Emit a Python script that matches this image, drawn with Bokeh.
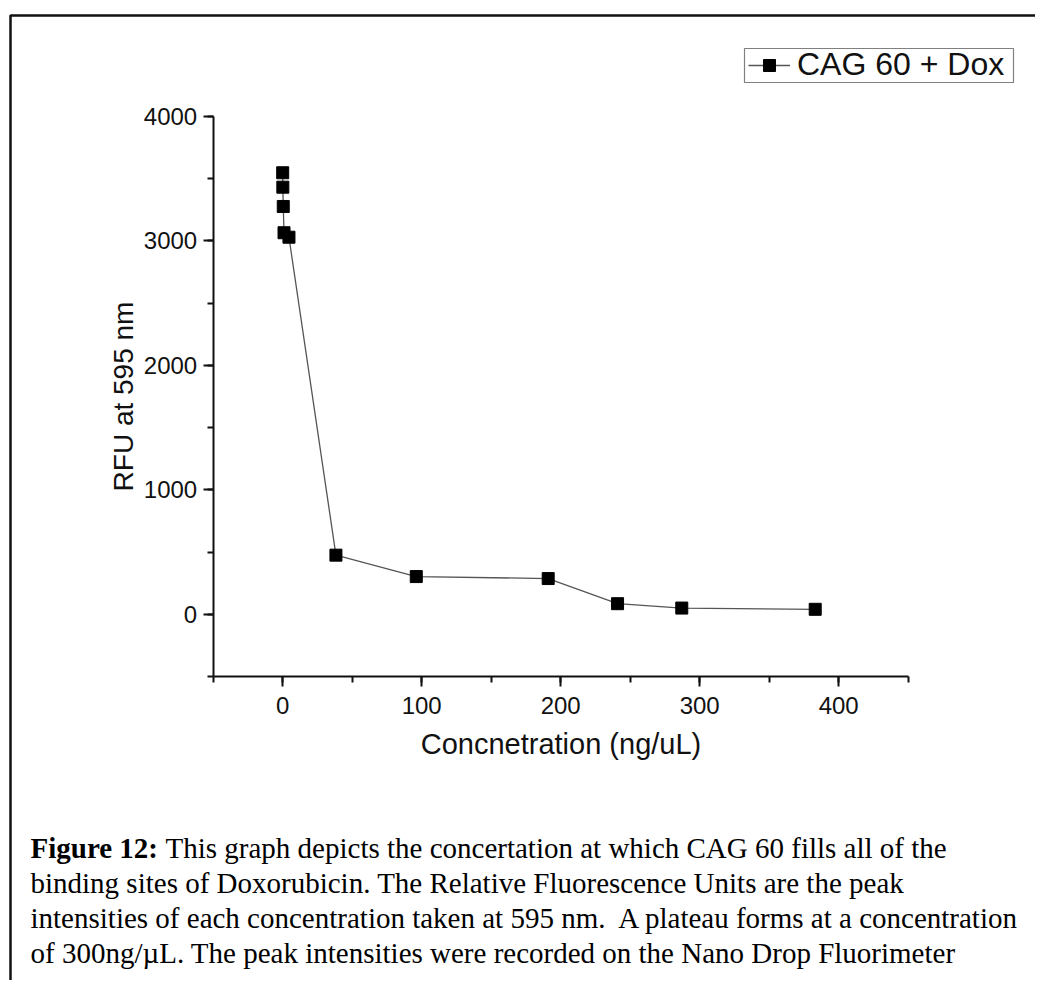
from bokeh.plotting import figure
from bokeh.models import (LinearAxis, SingleIntervalTicker, Range1d, Legend,
                          LegendItem, Label, BoxAnnotation)
from bokeh.embed import file_html
from bokeh.resources import INLINE

# ---------------- data ----------------
conc = [0.0, 0.1, 0.4, 0.95, 4.5, 38.3, 96.1, 191.0, 240.9, 287.1, 383.1]
rfu = [3548, 3432, 3277, 3066, 3030, 475, 303, 287, 85, 50, 40]
series_name = "CAG 60 + Dox"
x_label = "Concnetration (ng/uL)"
y_label = "RFU at 595 nm"
x_bounds = (-50, 450)
y_bounds = (-500, 4000)
x_ticks_interval = 100
y_ticks_interval = 1000
caption_bold = "Figure 12:"
caption_first = "This graph depicts the concertation at which CAG 60 fills all of the"
caption_rest = [
    "binding sites of Doxorubicin. The Relative Fluorescence Units are the peak",
    "intensities of each concentration taken at 595 nm.\u00a0 A plateau forms at a concentration",
    "of 300ng/\u00b5L. The peak intensities were recorded on the Nano Drop Fluorimeter",
]

# ---------------- layout (pixels on the canvas) ----------------
W, H = 1035, 980
AX_L, AX_R = 212.7, 907.7      # pixel span of x axis
AX_T, AX_B = 116.0, 676.0      # pixel span of y axis
SANS = "Liberation Sans"
SERIF = "Liberation Serif"

# the plot frame covers the whole canvas; axes are placed inside it
xs = (x_bounds[1] - x_bounds[0]) / (AX_R - AX_L)
ys = (y_bounds[1] - y_bounds[0]) / (AX_B - AX_T)
x_range = Range1d(x_bounds[0] - AX_L * xs, x_bounds[1] + (W - AX_R) * xs)
y_range = Range1d(y_bounds[0] - (H - AX_B) * ys, y_bounds[1] + AX_T * ys)

p = figure(width=W, height=H, output_backend="svg", toolbar_location=None,
           x_range=x_range, y_range=y_range,
           x_axis_location=None, y_axis_location=None, min_border=0)
p.outline_line_color = None
p.xgrid.visible = False
p.ygrid.visible = False
p.background_fill_color = "white"
p.border_fill_color = "white"


def style_axis(ax, tick_size, label_size, label_standoff, major_standoff):
    ax.axis_line_width = 2
    ax.axis_line_color = "#111111"
    ax.major_tick_in = 0
    ax.major_tick_out = 10
    ax.minor_tick_in = 0
    ax.minor_tick_out = 6
    ax.major_tick_line_width = 2
    ax.minor_tick_line_width = 2
    ax.major_tick_line_color = "#111111"
    ax.minor_tick_line_color = "#111111"
    ax.major_label_text_font = SANS
    ax.major_label_text_font_size = tick_size
    ax.major_label_text_color = "#111111"
    ax.major_label_standoff = major_standoff
    ax.axis_label_text_font = SANS
    ax.axis_label_text_font_size = label_size
    ax.axis_label_text_font_style = "normal"
    ax.axis_label_text_color = "#111111"
    ax.axis_label_standoff = label_standoff


xaxis = LinearAxis(ticker=SingleIntervalTicker(interval=x_ticks_interval, num_minor_ticks=2),
                   axis_label=x_label, bounds=x_bounds, fixed_location=y_bounds[0])
style_axis(xaxis, "24px", "29px", 11, 10)
p.add_layout(xaxis, "below")

yaxis = LinearAxis(ticker=SingleIntervalTicker(interval=y_ticks_interval, num_minor_ticks=2),
                   axis_label=y_label, bounds=y_bounds, fixed_location=x_bounds[0])
style_axis(yaxis, "24px", "28px", 2, 6)
p.add_layout(yaxis, "left")

ln = p.line(conc, rfu, line_color="#555555", line_width=1.3)
sc = p.scatter(conc, rfu, marker="square", size=12, fill_color="black",
               line_color="black")

# legend entry (no own border) + its frame drawn as a box
legend = Legend(items=[LegendItem(label=series_name, renderers=[ln, sc])],
                location=(748, H - 83), border_line_color=None,
                padding=0, margin=0, spacing=0,
                glyph_width=42, glyph_height=30, label_height=30,
                label_standoff=7, label_text_font=SANS,
                label_text_font_size="32px", label_text_color="#111111",
                background_fill_alpha=0)
p.add_layout(legend)
legend_box = BoxAnnotation(left=744, right=1013, top=H - 48, bottom=H - 82,
                           left_units="screen", right_units="screen",
                           top_units="screen", bottom_units="screen",
                           fill_alpha=0, line_color="#808080", line_alpha=1,
                           line_width=1.2)
p.add_layout(legend_box)

# outer border (only top and left edges are inside the picture)
border = BoxAnnotation(left=10, right=W + 300, top=H - 15, bottom=-300,
                       left_units="screen", right_units="screen",
                       top_units="screen", bottom_units="screen",
                       fill_alpha=0, line_color="#111111", line_alpha=1,
                       line_width=2.5)
p.add_layout(border)

# caption
cap_x = 30
base0 = 847
step = 35
fs = "29px"
p.add_layout(Label(x=cap_x, y=H - base0, x_units="screen", y_units="screen",
                   text=caption_bold, text_font=SERIF, text_font_size=fs,
                   text_font_style="bold", text_color="black",
                   text_baseline="alphabetic"))
p.add_layout(Label(x=cap_x + 135, y=H - base0, x_units="screen", y_units="screen",
                   text=caption_first, text_font=SERIF, text_font_size=fs,
                   text_color="black", text_baseline="alphabetic"))
for i, line in enumerate(caption_rest):
    p.add_layout(Label(x=cap_x, y=H - base0 - step * (i + 1),
                       x_units="screen", y_units="screen",
                       text=line, text_font=SERIF, text_font_size=fs,
                       text_color="black", text_baseline="alphabetic"))

open("out.html", "w").write(file_html(p, INLINE))
